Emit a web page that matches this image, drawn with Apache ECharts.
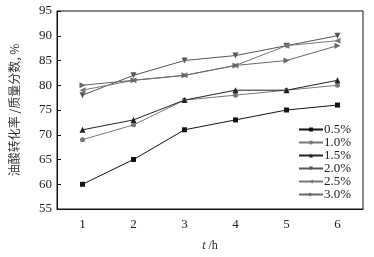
<!DOCTYPE html>
<html><head><meta charset="utf-8">
<script src="https://cdn.jsdelivr.net/npm/echarts@6/dist/echarts.min.js"></script>
<style>html,body{margin:0;padding:0;background:#fff}#c{width:374px;height:257px}</style>
</head><body><div id="c"></div>
<script>
const categories = ['1', '2', '3', '4', '5', '6'];
const seriesNames = ['0.5%', '1.0%', '1.5%', '2.0%', '2.5%', '3.0%'];
const s05 = [60, 65, 71, 73, 75, 76];
const s10 = [69, 72, 77, 78, 79, 80];
const s15 = [71, 73, 77, 79, 79, 81];
const s20 = [78, 82, 85, 86, 88, 90];
const s25 = [79, 81, 82, 84, 88, 89];
const s30 = [80, 81, 82, 84, 85, 88];
const yTicks = [55, 60, 65, 70, 75, 80, 85, 90, 95];

const values = [s05, s10, s15, s20, s25, s30];
const colors = ['#111', '#777', '#222', '#555', '#777', '#666'];
const symbols = ['rect', 'circle', 'triangle', 'path://M0,0 L10,0 L5,9 Z', 'path://M9,0 L9,10 L0,5 Z', 'path://M0,0 L0,10 L9,5 Z'];
const sizes = [5, 5, 6, 6, 6, 6];

const chart = echarts.init(document.getElementById('c'));
const serif = '"Liberation Serif", "DejaVu Serif", serif';
chart.setOption({
  animation: false,
  grid: { left: 57, right: 11, top: 11, bottom: 44, show: true, borderColor: '#111', borderWidth: 1 },
  legend: {
    orient: 'vertical', left: 293, top: 118,
    itemWidth: 24, itemHeight: 5, itemGap: 0,
    textStyle: { fontFamily: serif, fontSize: 13, lineHeight: 13, color: '#222', padding: [0,0,0,-4] },
    data: seriesNames
  },
  xAxis: {
    type: 'category', data: categories, boundaryGap: true,
    axisLine: { lineStyle: { color: '#111' } },
    axisTick: { alignWithLabel: true, inside: true, length: 4, lineStyle: { color: '#111' } },
    axisLabel: { fontFamily: serif, fontSize: 13, color: '#222', margin: 9 },
    name: '{i|t} /h', nameLocation: 'middle', nameGap: 31,
    nameTextStyle: { fontFamily: serif, fontSize: 12, color: '#222',
      rich: { i: { fontStyle: 'italic', fontFamily: serif, fontSize: 12, color: '#222' } } }
  },
  yAxis: {
    type: 'value', min: yTicks[0], max: yTicks[yTicks.length - 1], interval: 5,
    axisLine: { show: true, lineStyle: { color: '#111' } },
    axisTick: { show: true, inside: true, length: 4, lineStyle: { color: '#111' } },
    splitLine: { show: false },
    axisLabel: { fontFamily: serif, fontSize: 13, color: '#222', margin: 5 },
    name: '油酸转化率 /质量分数, %', nameLocation: 'middle', nameGap: 37, nameRotate: 90,
    nameTextStyle: { fontFamily: '"Noto Sans CJK SC", sans-serif', fontSize: 12, color: '#333' }
  },
  series: seriesNames.map((n, i) => ({
    name: n, type: 'line', data: values[i],
    symbol: symbols[i], symbolSize: sizes[i], showSymbol: true,
    lineStyle: { color: colors[i], width: 1 },
    itemStyle: { color: colors[i] }
  }))
});
</script></body></html>
